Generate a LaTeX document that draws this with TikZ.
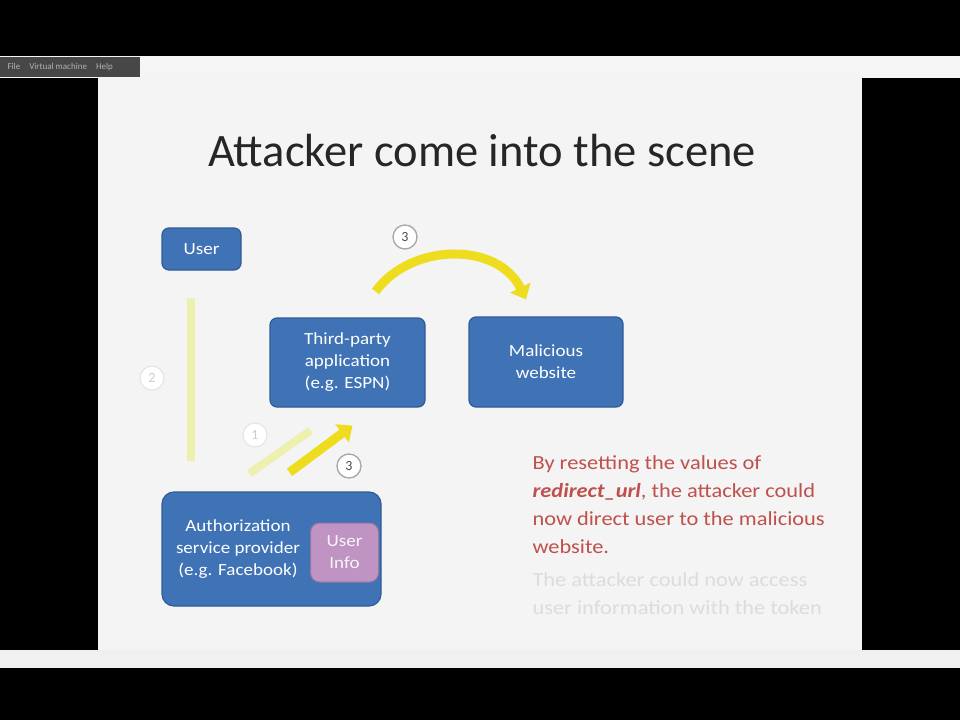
\documentclass[tikz,border=0pt]{standalone}
\usepackage{fontspec}
\setmainfont{Carlito}
\newfontfamily\widefont[FakeStretch=1.12]{Carlito}
\usetikzlibrary{arrows.meta,calc}
\definecolor{slidebg}{HTML}{F3F4F3}
\definecolor{boxblue}{HTML}{4072B6}
\definecolor{boxedge}{HTML}{2F5C98}
\definecolor{infopink}{HTML}{BF93C2}
\definecolor{ylw}{HTML}{EEDD1E}
\definecolor{fadeylw}{HTML}{EDF0AE}
\definecolor{redtxt}{HTML}{C0504D}
\definecolor{fadetxt}{HTML}{DCDCDC}
\tikzset{
  bluebox/.style={draw=boxedge, line width=1.2pt, fill=boxblue, rounded corners=7pt, text=white, align=center, font=\widefont\fontsize{17}{22}\selectfont, inner sep=0pt},
  infobox/.style={draw=infopink!80!black, line width=1pt, fill=infopink, rounded corners=9pt, text=white!90!infopink, align=center, font=\widefont\fontsize{17}{22}\selectfont, inner sep=0pt},
  numcirc/.style={circle, draw=gray!70, line width=1.3pt, fill=white, minimum size=24pt, inner sep=0pt, font=\fontsize{14}{14}\selectfont, text=black!70},
  fadecirc/.style={circle, draw=gray!20, line width=1.2pt, fill=white, minimum size=24pt, inner sep=0pt, font=\fontsize{14}{14}\selectfont, text=gray!40},
  yarrow/.style={draw=ylw, line width=9pt, -{Triangle[width=22pt,length=13pt]}},
  fadeline/.style={draw=fadeylw, line width=8pt},
  bodytext/.style={anchor=north west, align=left, font=\widefont\fontsize{20}{28}\selectfont},
}
\begin{document}
\begin{tikzpicture}[x=1pt,y=-1pt]
\useasboundingbox (0,0) rectangle (960,720);
\fill[black] (0,0) rectangle (960,720);
% window strips
\fill[gray!8] (0,56) rectangle (960,78);
\fill[black!72] (0,57) rectangle (140,77);
\node[anchor=west, text=gray!60, font=\fontsize{9}{9}\selectfont] (menu) at (4,67) {File\quad Virtual machine\quad Help};
\fill[gray!12] (0,650) rectangle (960,668);
% slide
\fill[slidebg] (98,78) rectangle (862,650);
\node[font=\fontsize{46.5}{46}\selectfont, text=black!85] (title) at (482,151) {Attacker come into the scene};
% boxes
\node[bluebox, minimum width=79pt, minimum height=42pt] (user) at (201.5,249) {User};
\node[bluebox, minimum width=155pt, minimum height=89pt] (tp) at (347.5,362.5) {Third-party\\application\\(e.g. ESPN)};
\node[bluebox, minimum width=154pt, minimum height=90pt] (mal) at (546,362) {Malicious\\website};
\node[bluebox, minimum width=219pt, minimum height=114pt, rounded corners=12pt] (auth) at (271.5,549) {};
\node[text=white, align=center, font=\widefont\fontsize{17}{22}\selectfont] (authtxt) at (238,549) {Authorization\\service provider\\(e.g. Facebook)};
\node[infobox, minimum width=68pt, minimum height=59pt] (info) at (344.5,552.5) {User\\Info};
% faded connectors
\draw[fadeline] ($(user.south)+(-11,27)$) -- ($(auth.north)+(-81,-30)$);
\node[fadecirc] (c2) at (152,378) {2};
\draw[fadeline] ($(auth.north)+(-22,-18)$) -- ($(tp.south)+(-37,23)$);
\node[fadecirc] (c1) at (255,435) {1};
% bright arrows
\coordinate (a3s) at ($(auth.north)+(18,-19)$);
\coordinate (a3e) at ($(tp.south)+(5,18)$);
\draw[yarrow] (a3s) -- (a3e);
\node[numcirc] (c3b) at (349,466) {3};
\coordinate (cs) at ($(tp.north)+(28,-26)$);
\coordinate (ce) at ($(mal.north)+(-20,-17)$);
\draw[yarrow] (cs) .. controls (412,242) and (498,242) .. (ce);
\node[numcirc] (c3a) at (405,237) {3};
% text
\node[bodytext, text=redtxt] (txt) at (529,452) {By resetting the values of\\\textbf{\textit{redirect\_url}}, the attacker could\\now direct user to the malicious\\website.};
\node[bodytext, text=fadetxt] (txt2) at (529,569) {The attacker could now access\\user information with the token};
\end{tikzpicture}
\end{document}
